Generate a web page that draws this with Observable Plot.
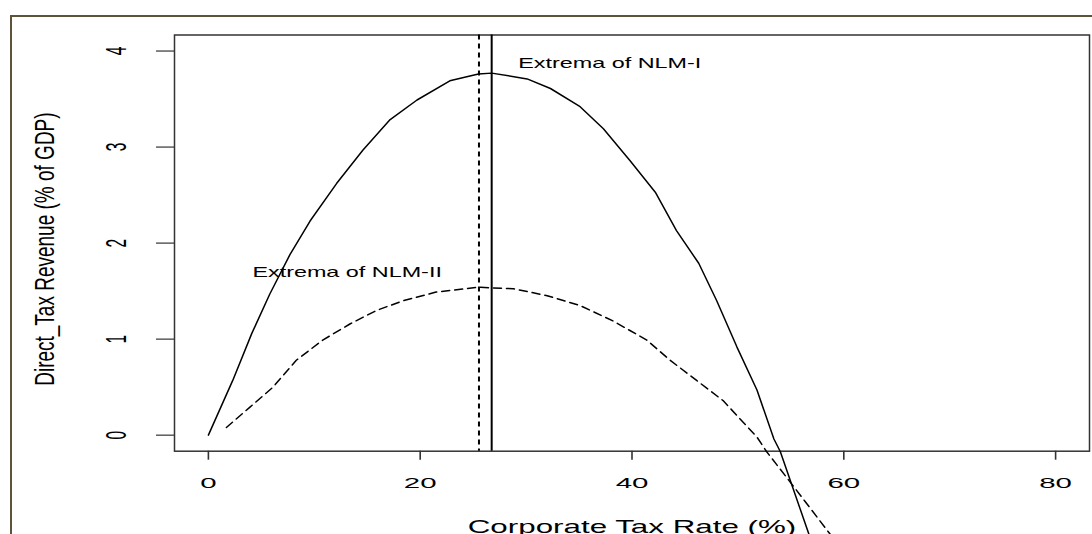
<!DOCTYPE html>
<html>
<head>
<meta charset="utf-8">
<script src="https://cdn.jsdelivr.net/npm/d3@7"></script>
<script src="https://cdn.jsdelivr.net/npm/@observablehq/plot@0.6"></script>
<style>
  html, body { margin: 0; padding: 0; overflow: hidden; background: white; }
  #wrap { position: relative; width: 1092px; height: 534px; }
  #border { position: absolute; left: 10px; top: 15px; width: 1082px; height: 519px;
            border-top: 2px solid #5c5338; border-left: 2px solid #5c5338; box-sizing: border-box; pointer-events: none; }
</style>
</head>
<body>
<div id="wrap"><div id="border"></div></div>
<script>
// Data
const nlm1X = [0, 2.3, 4.1, 5.8, 7.7, 9.6, 12.1, 14.6, 17.1, 19.7, 22.8, 25.5, 26.75, 30.1, 32.3, 35.1, 37.3, 39.8, 42.2, 44.2, 46.3, 48.0, 49.9, 51.8, 53.4, 54.0, 56.7];
const nlm1Y = [0, 0.57, 1.06, 1.47, 1.88, 2.23, 2.62, 2.97, 3.28, 3.49, 3.69, 3.76, 3.77, 3.71, 3.61, 3.42, 3.19, 2.86, 2.53, 2.13, 1.79, 1.40, 0.92, 0.47, -0.04, -0.17, -1.03];
const nlm2X = [1.7, 3.9, 6.1, 8.3, 10.8, 13.4, 15.9, 18.4, 21.5, 25.5, 28.8, 31.9, 35.1, 38.2, 41.4, 43.6, 46.1, 48.6, 51.8, 52.7, 55.3, 58.7];
const nlm2Y = [0.08, 0.29, 0.50, 0.78, 0.99, 1.16, 1.30, 1.40, 1.49, 1.54, 1.525, 1.455, 1.35, 1.19, 0.99, 0.78, 0.57, 0.36, -0.02, -0.17, -0.54, -1.03];
const extremaNLM1 = 26.75;
const extremaNLM2 = 25.55;
const xTicks = [0, 20, 40, 60, 80];
const yTicks = [0, 1, 2, 3, 4];
const annotations = [
  {label: "Extrema of NLM-I", x: 37.9, y: 3.87},
  {label: "Extrema of NLM-II", x: 13.1, y: 1.69}
];
const xTitle = "Corporate Tax Rate (%)";
const yTitle = "Direct_Tax Revenue (% of GDP)";

const nlm1 = nlm1X.map((x, i) => ({x, y: nlm1Y[i]}));
const nlm2 = nlm2X.map((x, i) => ({x, y: nlm2Y[i]}));

const txt = {fill: "black", textAnchor: "middle", lineAnchor: "middle"};

const svg = Plot.plot({
  width: 1092,
  height: 534,
  marginLeft: 174,
  marginRight: 3,
  marginTop: 34.5,
  marginBottom: 83.3,
  style: {fontFamily: "'Liberation Sans', Arial, sans-serif", background: "transparent", color: "black"},
  x: {domain: [-3.2, 83.2]},
  y: {domain: [-0.167, 4.167]},
  marks: [
    Plot.frame({stroke: "#333", strokeWidth: 1.5}),
    Plot.axisX(xTicks, {tickSize: 9, fill: "none", label: null, stroke: "#333", strokeWidth: 1.6}),
    Plot.axisY(yTicks, {tickSize: 18, fill: "none", label: null, stroke: "#333", strokeWidth: 1.2}),
    Plot.ruleX([extremaNLM1], {stroke: "black", strokeWidth: 2}),
    Plot.ruleX([extremaNLM2], {stroke: "black", strokeWidth: 2, strokeDasharray: "5,4"}),
    Plot.line(nlm1, {x: "x", y: "y", stroke: "black", strokeWidth: 1.5}),
    Plot.line(nlm2, {x: "x", y: "y", stroke: "black", strokeWidth: 1.5, strokeDasharray: "8,5"}),
    Plot.text(annotations, {x: "x", y: "y", text: "label", fontSize: 14, ...txt}),
    Plot.text(xTicks, {x: d => d, text: d => String(d), frameAnchor: "bottom", dy: 32.3, fontSize: 15.5, ...txt}),
    Plot.text(yTicks, {y: d => d, text: d => String(d), frameAnchor: "left", dx: -58, rotate: -90, fontSize: 15.5, ...txt}),
    Plot.text([xTitle], {text: d => d, frameAnchor: "bottom", dy: 76, fontSize: 19, ...txt}),
    Plot.text([yTitle], {text: d => d, frameAnchor: "left", dx: -129, dy: 6, rotate: -90, fontSize: 19, ...txt})
  ]
});

// Reproduce the horizontal stretching of the glyphs seen in the reference image
const annotLabels = new Set(annotations.map(d => d.label));
svg.querySelectorAll("text").forEach(t => {
  const s = t.textContent;
  const tr = t.getAttribute("transform") || "";
  const rotated = tr.includes("rotate");
  let sx = 1, sy = 1;
  if (annotLabels.has(s)) sx = 1.67;
  else if (s === xTitle) sx = 1.65;
  else if (s === yTitle) sy = 1.45;
  else if (rotated) sy = 1.95;
  else sx = 1.9;
  t.setAttribute("transform", `${tr} scale(${sx},${sy})`);
});

svg.style.position = "absolute";
svg.style.left = "0";
svg.style.top = "0";
document.getElementById("wrap").prepend(svg);
</script>
</body>
</html>
